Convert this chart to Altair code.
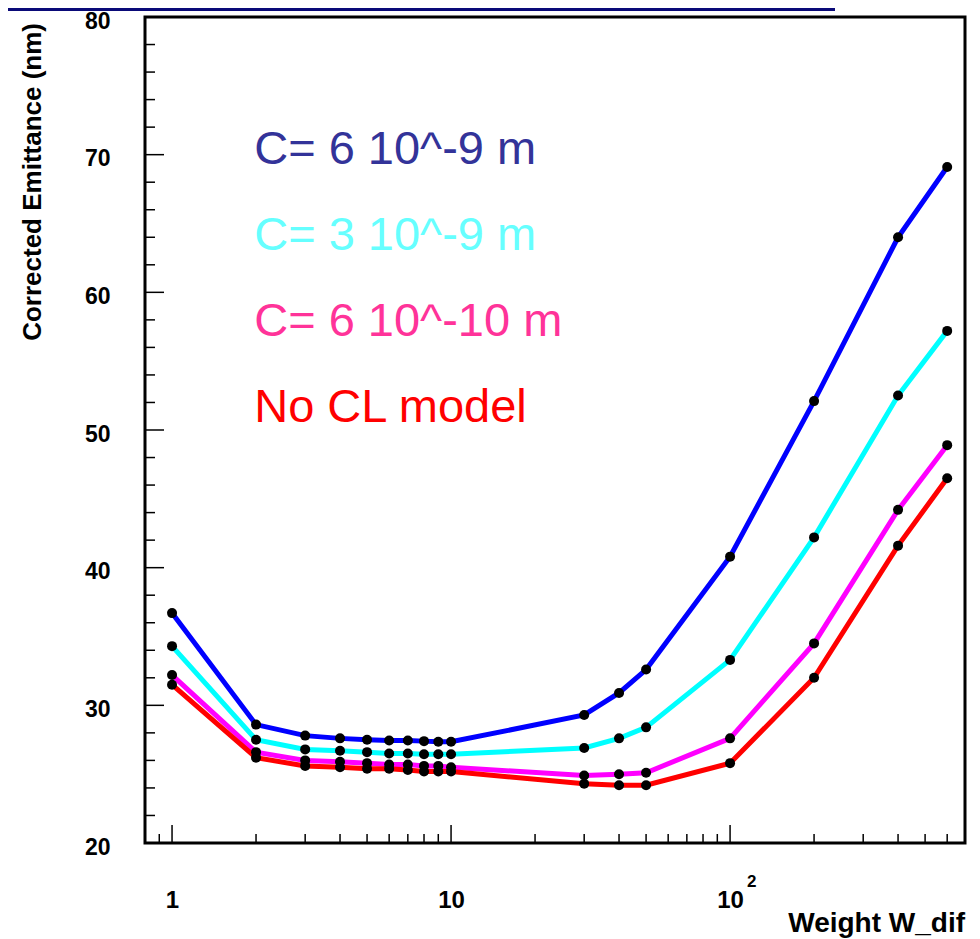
import altair as alt
import pandas as pd

# ---------------- data ----------------
weights = [1, 2, 3, 4, 5, 6, 7, 8, 9, 10, 30, 40, 50, 100, 200, 400, 600]
emit_c6e9 = [36.7, 28.6, 27.8, 27.6, 27.5, 27.45, 27.45, 27.4, 27.35, 27.35, 29.3, 30.9, 32.6, 40.8, 52.1, 64.0, 69.1]
emit_c3e9 = [34.3, 27.5, 26.8, 26.7, 26.6, 26.5, 26.5, 26.45, 26.45, 26.45, 26.9, 27.6, 28.4, 33.3, 42.2, 52.5, 57.2]
emit_c6e10 = [32.2, 26.6, 26.0, 25.9, 25.8, 25.7, 25.7, 25.6, 25.6, 25.5, 24.9, 25.0, 25.1, 27.6, 34.5, 44.2, 48.9]
emit_nocl = [31.5, 26.2, 25.6, 25.5, 25.4, 25.4, 25.3, 25.2, 25.2, 25.2, 24.3, 24.2, 24.2, 25.8, 32.0, 41.6, 46.5]

series_names = ["C= 6 10^-9 m", "C= 3 10^-9 m", "C= 6 10^-10 m", "No CL model"]
series_values = [emit_c6e9, emit_c3e9, emit_c6e10, emit_nocl]
line_colors = ["#0000FF", "#00FFFF", "#FF00FF", "#FF0000"]
text_colors = ["#333399", "#66FFFF", "#FF3399", "#FF0000"]

# legend-text anchor positions (data coordinates)
label_x = [1.97, 1.97, 1.97, 1.97]
label_y = [69.3, 63.05, 56.8, 50.55]

y_major = [20, 30, 40, 50, 60, 70, 80]
y_minor = [v for v in range(22, 80, 2) if v % 10 != 0]
x_major = [1, 10, 100]
x_minor = [0.9, 2, 3, 4, 5, 6, 7, 8, 9, 20, 30, 40, 50, 60, 70, 80, 90, 200, 300, 400, 500, 600]

x_title = "Weight W_dif"
y_title = "Corrected Emittance (nm)"

# ---------------- tables ----------------
rows = []
for name, vals in zip(series_names, series_values):
    for w, v in zip(weights, vals):
        rows.append({"series": name, "w": w, "e": v})
df = pd.DataFrame(rows)

W, H = 820, 826
FONT = "Liberation Sans"

xscale = alt.Scale(type="log", domain=[0.8, 695], nice=False)
yscale = alt.Scale(domain=[20, 80], nice=False, zero=False)

x_axis = alt.Axis(values=x_major, labelExpr="datum.value == 1 ? '1' : '10'",
                  ticks=False, domain=False, grid=False, title=None,
                  labelFont=FONT, labelFontWeight="bold", labelFontSize=24,
                  labelColor="black", labelPadding=45, labelFlush=False, labelOverlap=False)
y_axis = alt.Axis(values=y_major, ticks=False, domain=False, grid=False, title=None,
                  labelFont=FONT, labelFontWeight="bold", labelFontSize=23,
                  labelColor="black", labelPadding=35, labelOffset=4,
                  labelFlush=False, labelOverlap=False)


def X(field):
    return alt.X(field, scale=xscale, axis=x_axis, title=None)


def Y(field):
    return alt.Y(field, scale=yscale, axis=y_axis, title=None)


base = alt.Chart(df)

lines = base.mark_line(strokeWidth=5).encode(
    x=X("w:Q"),
    y=Y("e:Q"),
    color=alt.Color("series:N", scale=alt.Scale(domain=series_names, range=line_colors), legend=None),
    order=alt.Order("w:Q"),
)

points = base.mark_circle(size=100, color="black", opacity=1).encode(
    x=X("w:Q"),
    y=Y("e:Q"),
)

# inward ticks (ROOT style)
ymaj = alt.Chart(pd.DataFrame({"v": y_major})).mark_rule(color="black", strokeWidth=1.5).encode(
    y=Y("v:Q"), x=alt.value(0), x2=alt.value(19))
ymin = alt.Chart(pd.DataFrame({"v": y_minor})).mark_rule(color="black", strokeWidth=1.5).encode(
    y=Y("v:Q"), x=alt.value(0), x2=alt.value(10))
xmaj = alt.Chart(pd.DataFrame({"v": x_major})).mark_rule(color="black", strokeWidth=1.5).encode(
    x=X("v:Q"), y=alt.value(H), y2=alt.value(H - 18))
xmin = alt.Chart(pd.DataFrame({"v": x_minor})).mark_rule(color="black", strokeWidth=1.5).encode(
    x=X("v:Q"), y=alt.value(H), y2=alt.value(H - 9))

# superscript of 10^2
sup = alt.Chart(pd.DataFrame({"v": [100], "t": ["2"]})).mark_text(
    font=FONT, fontWeight="bold", fontSize=17, align="left", baseline="top", dx=17, color="black"
).encode(x=X("v:Q"), y=alt.value(857), text="t:N")

# legend texts
lab_df = pd.DataFrame({"t": series_names, "c": text_colors, "x": label_x, "y": label_y})
labels = alt.Chart(lab_df).mark_text(
    font=FONT, fontSize=47, align="left", baseline="alphabetic"
).encode(
    x=X("x:Q"),
    y=Y("y:Q"),
    text="t:N",
    color=alt.Color("c:N", scale=None),
)

# axis titles
ytitle = alt.Chart(pd.DataFrame({"t": [y_title]})).mark_text(
    font=FONT, fontWeight="bold", fontSize=26, angle=270, align="right", baseline="alphabetic", color="black"
).encode(x=alt.value(-104), y=alt.value(6), text="t:N")
xtitle = alt.Chart(pd.DataFrame({"t": [x_title]})).mark_text(
    font=FONT, fontWeight="bold", fontSize=28, align="right", baseline="alphabetic", color="black"
).encode(x=alt.value(W), y=alt.value(915), text="t:N")

# dark header bar at the top of the slide
bar = alt.Chart(pd.DataFrame({"a": [0]})).mark_rule(color="#0a0a78", strokeWidth=3).encode(
    x=alt.value(-137), x2=alt.value(690), y=alt.value(-7.5))

chart = alt.layer(lines, points, ymaj, ymin, xmaj, xmin, sup, labels, ytitle, xtitle, bar).properties(
    width=W, height=H,
    padding={"left": 137, "top": 9, "right": 7, "bottom": 96},
    autosize=alt.AutoSizeParams(type="none"),
    background="white",
).configure_view(stroke="black", strokeWidth=3)

chart.save("out.html", embed_options={"renderer": "svg", "actions": False})
